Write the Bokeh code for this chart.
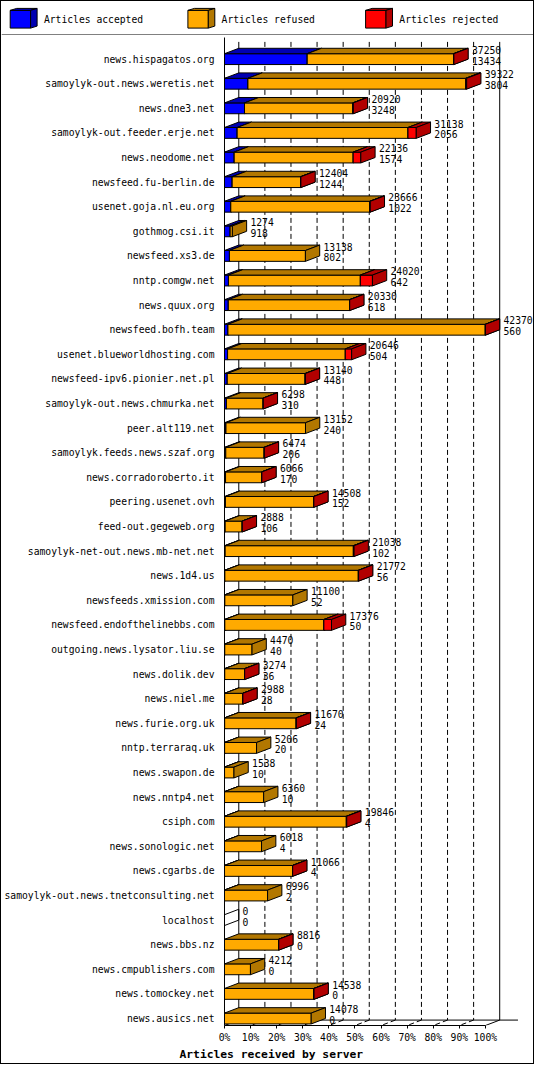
import numpy as np
from bokeh.plotting import figure
from bokeh.layouts import column
from bokeh.models import Range1d, FixedTicker, Title
from bokeh.core.properties import value
from bokeh.embed import file_html
from bokeh.resources import INLINE

# data
servers = [
    "news.hispagatos.org", "samoylyk-out.news.weretis.net", "news.dne3.net",
    "samoylyk-out.feeder.erje.net", "news.neodome.net", "newsfeed.fu-berlin.de",
    "usenet.goja.nl.eu.org", "gothmog.csi.it", "newsfeed.xs3.de", "nntp.comgw.net",
    "news.quux.org", "newsfeed.bofh.team", "usenet.blueworldhosting.com",
    "newsfeed-ipv6.pionier.net.pl", "samoylyk-out.news.chmurka.net", "peer.alt119.net",
    "samoylyk.feeds.news.szaf.org", "news.corradoroberto.it", "peering.usenet.ovh",
    "feed-out.gegeweb.org", "samoylyk-net-out.news.mb-net.net", "news.1d4.us",
    "newsfeeds.xmission.com", "newsfeed.endofthelinebbs.com",
    "outgoing.news.lysator.liu.se", "news.dolik.dev", "news.niel.me",
    "news.furie.org.uk", "nntp.terraraq.uk", "news.swapon.de", "news.nntp4.net",
    "csiph.com", "news.sonologic.net", "news.cgarbs.de",
    "samoylyk-out.news.tnetconsulting.net", "localhost", "news.bbs.nz",
    "news.cmpublishers.com", "news.tomockey.net", "news.ausics.net",
]
offered = [37250, 39322, 20920, 31138, 22136, 12404, 23666, 1274, 13138, 24020,
           20330, 42370, 20646, 13140, 6298, 13152, 6474, 6066, 14508, 2888,
           21038, 21772, 11100, 17376, 4470, 3274, 2988, 11670, 5206, 1538,
           6360, 19846, 6018, 11066, 6996, 0, 8816, 4212, 14538, 14078]
accepted = [13434, 3804, 3248, 2056, 1574, 1244, 1022, 918, 802, 642,
            618, 560, 504, 448, 310, 240, 206, 170, 152, 106,
            102, 56, 52, 50, 40, 36, 28, 24, 20, 10,
            10, 4, 4, 4, 2, 0, 0, 0, 0, 0]
refused = [23756, 35368, 17582, 27742, 19322, 11120, 22574, 356, 12336, 21418,
           19682, 41790, 19112, 12642, 5968, 12912, 6238, 5876, 14316, 2772,
           20826, 21676, 11048, 16086, 4430, 3218, 2950, 11616, 5186, 1528,
           6350, 19782, 6014, 11042, 6994, 0, 8786, 4212, 14498, 14078]
rejected = [60, 150, 90, 1340, 1240, 40, 70, 0, 0, 1960,
            30, 20, 1030, 50, 20, 0, 30, 20, 40, 10,
            110, 40, 0, 1240, 0, 20, 10, 30, 0, 0,
            0, 60, 0, 20, 0, 0, 30, 0, 40, 0]
pct_ticks = [0, 10, 20, 30, 40, 50, 60, 70, 80, 90, 100]

# page geometry (reference is 550x1080, scaled to fit the window)
W, H_KEY, H_MAIN = 532, 34, 1028
SX, SY = W / 548, (H_KEY + H_MAIN) / 1078
LEFT_B, BOT_B = 217, 38
PX_PCT = 2.74          # reference pixels per percent
ROW_PX, ROW0 = 24.97, 59.5
DX = 15 / PX_PCT       # 3d depth, horizontal
DZ = 5.5 / ROW_PX      # 3d depth, vertical
HH = 5.5 / ROW_PX      # half height of a bar front


def row_of(py):
    return (py - ROW0) / ROW_PX


frame_top_ref = 1 + H_KEY / SY
x_end = (W - LEFT_B) / SX / PX_PCT
y_top = row_of(frame_top_ref)
y_bot = row_of(frame_top_ref + (H_MAIN - BOT_B) / SY)
floor_back = y_bot - DZ
wall_top = row_of(42)

FONT = "DejaVu Sans Mono"
FS = "9.7px"

segments = [("Articles accepted", accepted, "#0000ff", "#0000b2"),
            ("Articles refused", refused, "#ffaa00", "#b27700"),
            ("Articles rejected", rejected, "#ff0000", "#b20000")]

# ---- key band on top ----
key = figure(width=W, height=H_KEY, x_range=Range1d(0, W), y_range=Range1d(H_KEY, 0),
             output_backend="svg", toolbar_location=None, min_border=0,
             x_axis_location=None, y_axis_location=None)
key.frame_align = False
key.grid.visible = False
key.outline_line_color = None
kx = np.array([8.7 + 177.7 * k for k in range(len(segments))])
kw, k_top, k_bot, kd, kz = 20.4, 8.9, 26.6, 6.5, 2.0
fronts = [s[2] for s in segments]
darks = [s[3] for s in segments]
key.quad(left=kx, right=kx + kw, top=k_top, bottom=k_bot,
         fill_color=fronts, line_color="black")
key.patches([[x, x + kd, x + kw + kd, x + kw] for x in kx],
            [[k_top, k_top - kz, k_top - kz, k_top] for x in kx],
            fill_color=darks, line_color="black")
key.patches([[x + kw, x + kw + kd, x + kw + kd, x + kw] for x in kx],
            [[k_top, k_top - kz, k_bot - kz, k_bot] for x in kx],
            fill_color=darks, line_color="black")
key.text(x=kx + 33.7, y=(k_top + k_bot) / 2, text=[s[0] for s in segments],
         text_font=value(FONT), text_font_size=FS, text_baseline="middle",
         text_color="black")
key.segment(x0=[0], y0=H_KEY - 0.5, x1=[W], y1=H_KEY - 0.5, line_color="black")

# ---- main chart ----
p = figure(width=W, height=H_MAIN, x_range=Range1d(0, x_end), y_range=Range1d(y_bot, y_top),
           output_backend="svg", toolbar_location=None,
           min_border_left=LEFT_B, min_border_right=0,
           min_border_top=0, min_border_bottom=BOT_B)
p.frame_align = False
p.grid.visible = False
p.outline_line_color = None

# back walls and grid
inner = pct_ticks[1:-1]
p.segment(x0=[t + DX for t in inner], y0=wall_top, x1=[t + DX for t in inner], y1=floor_back,
          line_color="black", line_dash="5 3", line_width=1)
p.segment(x0=[t + DX for t in inner], y0=floor_back, x1=inner, y1=y_bot,
          line_color="black", line_dash="5 3", line_width=1)
p.segment(x0=[DX, 100 + DX], y0=wall_top, x1=[DX, 100 + DX], y1=floor_back,
          line_color="black", line_width=1)
p.segment(x0=[DX], y0=floor_back, x1=[100 + DX + 7], y1=floor_back, line_color="black")
p.segment(x0=[0, 100], y0=y_bot, x1=[DX, 100 + DX], y1=floor_back, line_color="black")

# stacked 3d bars
scale_max = max(offered)
rows = np.arange(len(servers))
start = np.zeros(len(servers))
for label, vals, c_front, c_dark in segments:
    v = np.array(vals, dtype=float)
    x0 = start
    x1 = start + v / scale_max * 100
    m = v > 0
    a, b, y = x0[m], x1[m], rows[m]
    p.quad(left=a, right=b, top=y - HH, bottom=y + HH,
           fill_color=c_front, line_color="black", line_width=1)
    p.patches([[l, l + DX, r + DX, r] for l, r in zip(a, b)],
              [[q - HH, q - HH - DZ, q - HH - DZ, q - HH] for q in y],
              fill_color=c_dark, line_color="black", line_width=1)
    p.patches([[r, r + DX, r + DX, r] for r in b],
              [[q - HH, q - HH - DZ, q + HH - DZ, q + HH] for q in y],
              fill_color=c_dark, line_color="black", line_width=1)
    start = x1

# empty rows still show their edges
empty = [i for i, t in enumerate(offered) if t == 0]
p.patches([[0, DX, DX, 0] for i in empty],
          [[i - HH, i - HH - DZ, i + HH - DZ, i + HH] for i in empty],
          fill_alpha=0, line_color="black", line_width=1)

# value labels
lx = np.array(offered) / scale_max * 100 + DX + 4 / PX_PCT
p.text(x=lx, y=rows - 0.38, text=[str(t) for t in offered], text_font=value(FONT),
       text_font_size=FS, text_baseline="middle", text_color="black")
p.text(x=lx, y=rows + 0.06, text=[str(t) for t in accepted], text_font=value(FONT),
       text_font_size=FS, text_baseline="middle", text_color="black")

# axes
yax = p.yaxis[0]
yax.ticker = FixedTicker(ticks=list(rows))
yax.major_label_overrides = {int(i): s for i, s in zip(rows, servers)}
yax.major_tick_line_color = None
yax.minor_tick_line_color = None
yax.major_label_standoff = 4
yax.major_label_text_font = FONT
yax.major_label_text_font_size = FS
yax.major_label_text_color = "black"
yax.axis_line_color = "black"
yax.bounds = (row_of(38), y_bot)

xax = p.xaxis[0]
xax.ticker = FixedTicker(ticks=pct_ticks)
xax.major_label_overrides = {t: f"{t}%" for t in pct_ticks}
xax.major_tick_in = 0
xax.major_tick_out = 3
xax.major_tick_line_color = "black"
xax.minor_tick_line_color = None
xax.major_label_standoff = 3
xax.major_label_text_font = FONT
xax.major_label_text_font_size = FS
xax.major_label_text_color = "black"
xax.axis_line_color = "black"
xax.bounds = (0, 100)

p.add_layout(Title(text="Articles received by server", align="left", offset=-45,
                   text_font=FONT, text_font_style="bold", text_font_size="11.3px",
                   text_color="black", standoff=0), "below")

page = column(key, p, spacing=0)
page.styles = {"border": "1px solid black"}

open("out.html", "w").write(file_html(page, INLINE))
